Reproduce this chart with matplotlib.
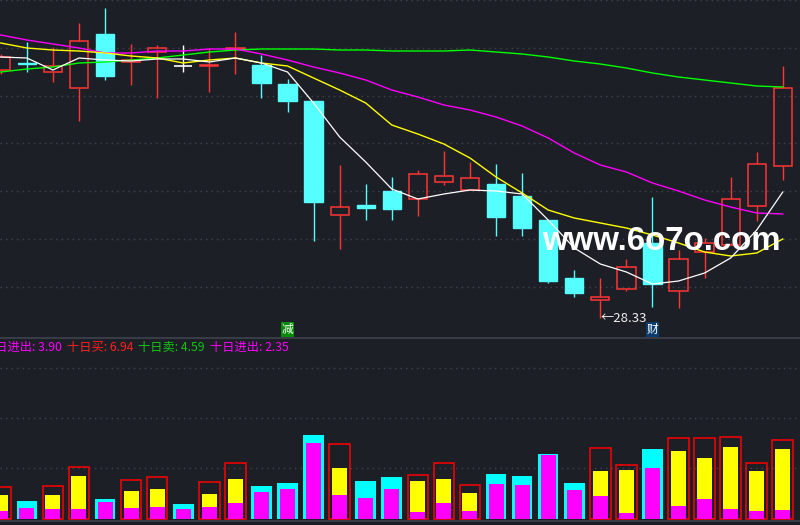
import matplotlib.pyplot as plt
import numpy as np
from matplotlib.patches import Rectangle
from matplotlib.transforms import blended_transform_factory

# candles, one per trading day
opens = [38.25, 38.55, 38.17, 37.53, 39.69, 38.57, 38.97, 38.41, 38.39, 39.09,
         38.45, 37.69, 37.01, 32.45, 32.85, 33.41, 33.09, 33.77, 33.45, 33.69,
         33.21, 32.25, 29.93, 29.05, 29.49, 31.33, 29.41, 30.97, 31.25, 32.81, 34.41]
closes = [38.77, 38.49, 38.41, 39.41, 38.01, 38.65, 39.13, 38.41, 38.45, 39.13,
          37.73, 37.01, 32.97, 32.77, 32.75, 32.69, 34.09, 34.01, 33.93, 32.37,
          31.93, 29.81, 29.33, 29.17, 30.37, 29.69, 30.69, 31.33, 33.09, 34.49, 37.53]
highs = [38.90, 39.37, 39.17, 40.13, 40.73, 39.29, 39.25, 39.25, 39.13, 39.77,
         38.85, 37.89, 37.01, 34.45, 33.69, 33.97, 34.25, 35.01, 34.57, 34.49,
         34.13, 32.25, 30.25, 29.93, 30.69, 33.17, 31.05, 31.53, 33.97, 34.97, 38.41]
lows = [38.10, 38.17, 37.77, 36.21, 37.85, 37.65, 37.13, 38.17, 37.37, 38.09,
        37.13, 36.57, 31.41, 31.09, 32.25, 32.25, 32.41, 33.65, 33.45, 31.61,
        31.61, 29.73, 29.17, 28.33, 29.41, 28.77, 28.73, 29.93, 31.33, 32.21, 33.85]

ma_white = [38.77, 38.73, 38.25, 38.73, 38.65, 38.61, 38.69, 38.69, 38.57, 38.73,
            38.53, 38.17, 36.93, 35.57, 34.57, 33.49, 33.09, 33.29, 33.45, 33.41,
            33.29, 32.25, 31.13, 30.49, 30.17, 29.69, 29.81, 30.13, 30.73, 31.85, 33.37]
ma_yellow = [39.33, 39.13, 39.05, 39.01, 38.93, 38.81, 38.73, 38.53, 38.65, 38.73,
             38.53, 38.41, 37.93, 37.45, 36.93, 36.05, 35.69, 35.29, 34.73, 33.97,
             33.33, 32.65, 32.33, 32.13, 31.93, 31.65, 31.33, 30.97, 30.81, 30.93, 31.49]
ma_magenta = [39.65, 39.45, 39.29, 39.13, 38.93, 38.93, 39.01, 39.01, 39.09, 39.09,
              38.89, 38.65, 38.37, 38.13, 37.85, 37.45, 37.17, 36.85, 36.65, 36.37,
              36.01, 35.53, 34.93, 34.45, 34.17, 33.73, 33.41, 33.05, 32.77, 32.53, 32.49]
ma_green = [38.17, 38.29, 38.37, 38.53, 38.57, 38.65, 38.73, 38.85, 38.97, 39.05,
            39.09, 39.09, 39.09, 39.05, 39.05, 39.01, 39.01, 39.01, 39.05, 38.97,
            38.89, 38.77, 38.61, 38.49, 38.33, 38.13, 37.97, 37.85, 37.73, 37.61, 37.57]

# lower panel: total bar, yellow part (up days only), magenta part
vol_total = [3.17, 1.80, 3.27, 5.17, 2.00, 3.87, 4.17, 1.50, 3.67, 5.57,
             3.30, 3.60, 8.40, 7.47, 3.80, 4.20, 4.37, 5.57, 3.37, 4.50,
             4.30, 6.50, 3.60, 7.07, 5.37, 7.00, 8.07, 8.07, 8.17, 5.57, 7.87]
vol_yellow = [2.40, 0, 2.40, 4.30, 0, 2.80, 3.00, 0, 2.50, 4.00,
              0, 0, 0, 5.10, 0, 0, 3.80, 4.00, 2.60, 0,
              0, 0, 0, 4.80, 4.90, 0, 6.80, 6.10, 7.20, 4.80, 7.00]
vol_magenta = [0.80, 1.10, 1.00, 1.00, 1.70, 1.10, 1.20, 1.00, 1.20, 1.60,
               2.70, 3.00, 7.60, 2.40, 2.10, 3.00, 0.70, 1.60, 0.80, 3.50,
               3.40, 6.40, 2.90, 2.30, 0.60, 5.10, 1.30, 2.00, 1.00, 0.80, 0.90]

info_names = ['五日进出', '十日买', '十日卖', '十日进出']
info_values = [3.90, 6.94, 4.59, 2.35]
info_colors = ['#ff00ff', '#ff2020', '#10c810', '#ff00ff']

signal_days = [11, 25]
signal_text = ['减', '财']
signal_bg = ['#078a07', '#0c3c6c']

BG = '#1c1f26'
RED = '#ff3434'
CYAN = '#55ffff'
GRID = '#40444f'

plt.rcParams['font.family'] = ['Noto Sans CJK SC', 'DejaVu Sans']

n = len(opens)
x = np.arange(n)

fig = plt.figure(figsize=(8, 5.25), dpi=100, facecolor=BG)
ax = fig.add_axes([0, 187 / 525, 1, 338 / 525], facecolor=BG)
ax2 = fig.add_axes([0, 4 / 525, 1, 183 / 525], facecolor=BG)

for a in (ax, ax2):
    a.set_xlim(-0.03, 30.66)
    a.set_axisbelow(True)
    a.tick_params(left=False, bottom=False, labelleft=False, labelbottom=False)
    for s in a.spines.values():
        s.set_visible(False)

ax.set_ylim(27.53, 41.05)
ax.set_yticks(np.linspace(29.57, 41.05, 7))
ax.grid(axis='y', color=GRID, linestyle=(0, (1, 3)), linewidth=1)

ax2.set_ylim(-0.2, 18.1)
ax2.set_yticks([5.1, 10.1, 15.1])
ax2.grid(axis='y', color=GRID, linestyle=(0, (1, 3)), linewidth=1)
for side in ('top', 'bottom'):
    ax2.spines[side].set_visible(True)
    ax2.spines[side].set_color('#3d424d')
    ax2.spines[side].set_linewidth(1.2)

# candles
w = 0.7
for i in range(n):
    o, c, h, l = opens[i], closes[i], highs[i], lows[i]
    if c > o:
        ax.vlines(i, c, h, color=RED, lw=1, zorder=2)
        ax.vlines(i, l, o, color=RED, lw=1, zorder=2)
        ax.add_patch(Rectangle((i - w / 2, o), w, c - o, fill=False,
                               edgecolor=RED, lw=1.1, zorder=2))
    elif c < o:
        ax.vlines(i, l, h, color=CYAN, lw=1, zorder=2)
        ax.add_patch(Rectangle((i - w / 2, c), w, o - c, facecolor=CYAN,
                               edgecolor=CYAN, lw=1, zorder=2))
    else:
        ax.vlines(i, l, h, color='white', lw=1, zorder=2)
        ax.hlines(o, i - w / 2, i + w / 2, color='white', lw=1.2, zorder=2)

ax.plot(x, ma_green, color='#00ff00', lw=1, zorder=3)
ax.plot(x, ma_magenta, color='#ff00ff', lw=1, zorder=3)
ax.plot(x, ma_yellow, color='#ffff00', lw=1, zorder=3)
ax.plot(x, ma_white, color='white', lw=0.9, zorder=3)

# lowest low label
lo = int(np.argmin(lows))
ax.text(lo, lows[lo], '←' + f'{lows[lo]:.2f}', color='#f0f0f0', fontsize=9.5,
        ha='left', va='center', zorder=4)

# signal markers under the candles
trans = blended_transform_factory(ax.transData, ax.transAxes)
for d, t, b in zip(signal_days, signal_text, signal_bg):
    ax.text(d, 0.024, t, transform=trans, color='white', fontsize=8.5,
            ha='center', va='center', zorder=4,
            bbox=dict(boxstyle='square,pad=0.08', facecolor=b, edgecolor='none'))

# lower panel bars
for i in range(n):
    if closes[i] > opens[i]:
        ax2.bar(i, vol_total[i], width=0.79, fill=False, edgecolor='#ff0000', lw=1.1)
        ax2.bar(i, vol_yellow[i], width=0.575, color='#ffff00')
        ax2.bar(i, vol_magenta[i], width=0.575, color='#ff00ff')
    else:
        ax2.bar(i, vol_total[i], width=0.79, color='#00ffff')
        ax2.bar(i, vol_magenta[i], width=0.575, color='#ff00ff')

# indicator readout line
y_txt = 1 - 347 / 525
px_pos = [62, 67, 138, 210]
for k, (nm, v, col) in enumerate(zip(info_names, info_values, info_colors)):
    fig.text(px_pos[k] / 800, y_txt, f'{nm}: {v:.2f}', color=col, fontsize=8.8,
             ha='right' if k == 0 else 'left', va='center')

# watermark
fig.text(542 / 800, 1 - 241 / 525, 'www.6o7o.com', color='white', fontsize=23.8,
         fontweight='bold', family='Liberation Sans', ha='left', va='center',
         zorder=10)

fig.savefig('out.png', dpi=100, facecolor=BG)
